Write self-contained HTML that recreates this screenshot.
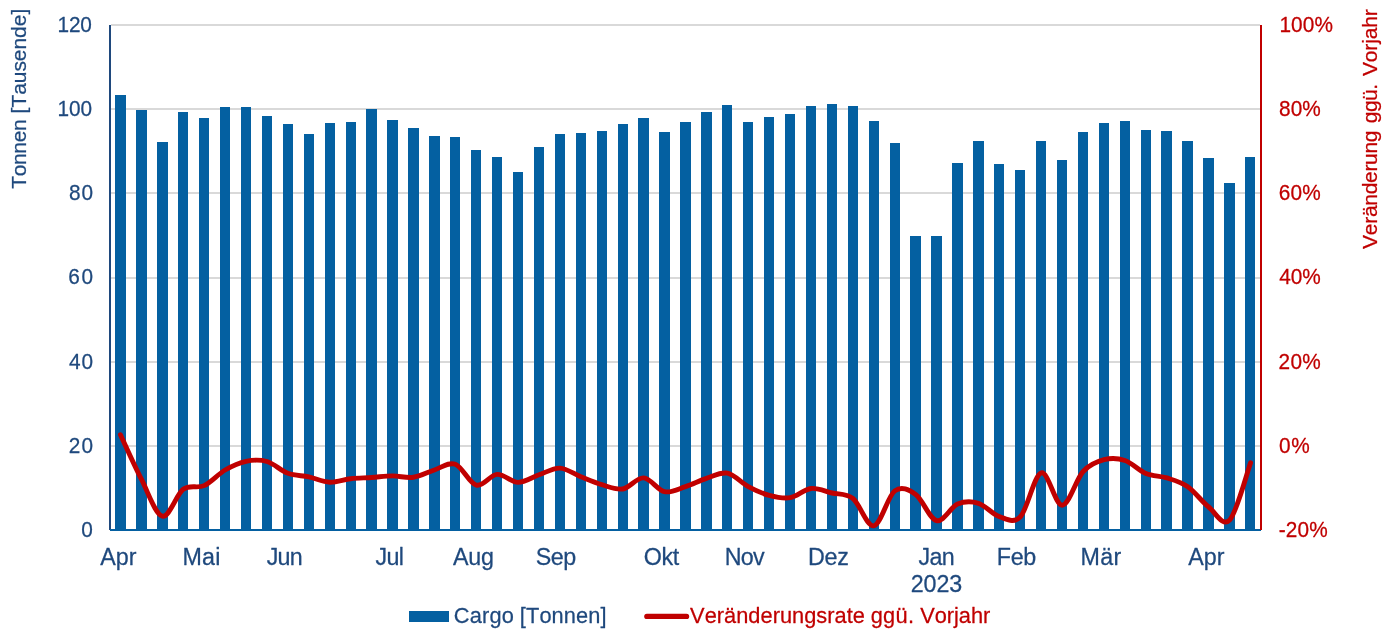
<!DOCTYPE html>
<html lang="de"><head><meta charset="utf-8"><title>Cargo [Tonnen] – Veränderungsrate ggü. Vorjahr</title>
<style>html,body{margin:0;padding:0;background:#fff}body{width:1389px;height:634px;overflow:hidden}svg{display:block}svg{font-family:"Liberation Sans",sans-serif;font-size:21.33px;font-kerning:none}.n{fill:#1f497d;stroke:#1f497d}.r{fill:#c00000;stroke:#c00000}text{stroke-width:0.25px;stroke-linejoin:round}</style></head><body>
<svg width="1389" height="634" viewBox="0 0 1389 634">
<rect width="1389" height="634" fill="#fff"/>
<g fill="#d9d9d9" shape-rendering="crispEdges">
<rect x="111" y="24" width="1149" height="2"/>
<rect x="111" y="108" width="1149" height="2"/>
<rect x="111" y="192" width="1149" height="2"/>
<rect x="111" y="277" width="1149" height="2"/>
<rect x="111" y="361" width="1149" height="2"/>
<rect x="111" y="445" width="1149" height="2"/>
</g>
<g fill="#0460a1" shape-rendering="crispEdges">
<rect x="115" y="95" width="11" height="435"/>
<rect x="136" y="110" width="11" height="420"/>
<rect x="157" y="142" width="11" height="388"/>
<rect x="178" y="112" width="10" height="418"/>
<rect x="199" y="118" width="10" height="412"/>
<rect x="220" y="107" width="10" height="423"/>
<rect x="241" y="107" width="10" height="423"/>
<rect x="262" y="116" width="10" height="414"/>
<rect x="283" y="124" width="10" height="406"/>
<rect x="304" y="134" width="10" height="396"/>
<rect x="325" y="123" width="10" height="407"/>
<rect x="346" y="122" width="10" height="408"/>
<rect x="366" y="109" width="11" height="421"/>
<rect x="387" y="120" width="11" height="410"/>
<rect x="408" y="128" width="11" height="402"/>
<rect x="429" y="136" width="11" height="394"/>
<rect x="450" y="137" width="10" height="393"/>
<rect x="471" y="150" width="10" height="380"/>
<rect x="492" y="157" width="10" height="373"/>
<rect x="513" y="172" width="10" height="358"/>
<rect x="534" y="147" width="10" height="383"/>
<rect x="555" y="134" width="10" height="396"/>
<rect x="576" y="133" width="10" height="397"/>
<rect x="597" y="131" width="10" height="399"/>
<rect x="618" y="124" width="10" height="406"/>
<rect x="638" y="118" width="11" height="412"/>
<rect x="659" y="132" width="11" height="398"/>
<rect x="680" y="122" width="11" height="408"/>
<rect x="701" y="112" width="11" height="418"/>
<rect x="722" y="105" width="10" height="425"/>
<rect x="743" y="122" width="10" height="408"/>
<rect x="764" y="117" width="10" height="413"/>
<rect x="785" y="114" width="10" height="416"/>
<rect x="806" y="106" width="10" height="424"/>
<rect x="827" y="104" width="10" height="426"/>
<rect x="848" y="106" width="10" height="424"/>
<rect x="869" y="121" width="10" height="409"/>
<rect x="890" y="143" width="10" height="387"/>
<rect x="910" y="236" width="11" height="294"/>
<rect x="931" y="236" width="11" height="294"/>
<rect x="952" y="163" width="11" height="367"/>
<rect x="973" y="141" width="11" height="389"/>
<rect x="994" y="164" width="10" height="366"/>
<rect x="1015" y="170" width="10" height="360"/>
<rect x="1036" y="141" width="10" height="389"/>
<rect x="1057" y="160" width="10" height="370"/>
<rect x="1078" y="132" width="10" height="398"/>
<rect x="1099" y="123" width="10" height="407"/>
<rect x="1120" y="121" width="10" height="409"/>
<rect x="1141" y="130" width="10" height="400"/>
<rect x="1161" y="131" width="11" height="399"/>
<rect x="1182" y="141" width="11" height="389"/>
<rect x="1203" y="158" width="11" height="372"/>
<rect x="1224" y="183" width="11" height="347"/>
<rect x="1245" y="157" width="10" height="373"/>
</g>
<g shape-rendering="crispEdges">
<rect x="109" y="25" width="2" height="505" fill="#1f497d"/>
<rect x="110" y="529" width="1151" height="2" fill="#0460a1"/>
<rect x="1260" y="25" width="2" height="505" fill="#c00000"/>
</g>
<path d="M120.46 434.70C123.95 442.12 134.42 465.62 141.39 479.20C148.37 492.78 155.34 514.52 162.32 516.20C169.29 517.88 176.27 494.40 183.25 489.30C190.22 484.20 197.20 488.82 204.17 485.60C211.15 482.38 218.12 474.05 225.10 470.00C232.08 465.95 239.05 462.72 246.03 461.30C253.00 459.88 259.98 459.50 266.95 461.50C273.93 463.50 280.91 470.73 287.88 473.30C294.86 475.87 301.83 475.42 308.81 476.90C315.78 478.38 322.76 481.90 329.74 482.20C336.71 482.50 343.69 479.48 350.66 478.70C357.64 477.92 364.62 477.97 371.59 477.50C378.57 477.03 385.54 475.93 392.52 475.90C399.49 475.87 406.47 478.28 413.45 477.30C420.42 476.32 427.40 472.18 434.37 470.00C441.35 467.82 448.32 461.68 455.30 464.20C462.28 466.72 469.25 483.40 476.23 485.10C483.20 486.80 490.18 474.85 497.15 474.40C504.13 473.95 511.11 482.33 518.08 482.40C525.06 482.47 532.03 477.18 539.01 474.80C545.98 472.42 552.96 467.77 559.94 468.10C566.91 468.43 573.89 474.03 580.86 476.80C587.84 479.57 594.82 482.67 601.79 484.70C608.77 486.73 615.74 490.13 622.72 489.00C629.69 487.87 636.67 477.45 643.65 477.90C650.62 478.35 657.60 490.25 664.57 491.70C671.55 493.15 678.52 488.82 685.50 486.60C692.48 484.38 699.45 480.63 706.43 478.40C713.40 476.17 720.38 471.83 727.35 473.20C734.33 474.57 741.31 482.90 748.28 486.60C755.26 490.30 762.23 493.55 769.21 495.40C776.18 497.25 783.16 498.85 790.14 497.70C797.11 496.55 804.09 489.28 811.06 488.50C818.04 487.72 825.02 491.33 831.99 493.00C838.97 494.67 845.94 493.03 852.92 498.50C859.89 503.97 866.87 527.07 873.85 525.80C880.82 524.53 887.80 496.10 894.77 490.90C901.75 485.70 908.72 489.63 915.70 494.60C922.68 499.57 929.65 519.12 936.63 520.70C943.60 522.28 950.58 507.00 957.55 504.10C964.53 501.20 971.51 501.22 978.48 503.30C985.46 505.38 992.43 514.35 999.41 516.60C1006.38 518.85 1013.36 524.08 1020.34 516.80C1027.31 509.52 1034.29 474.83 1041.26 472.90C1048.24 470.97 1055.22 505.43 1062.19 505.20C1069.17 504.97 1076.14 479.08 1083.12 471.50C1090.09 463.92 1097.07 461.53 1104.05 459.70C1111.02 457.87 1118.00 458.20 1124.97 460.50C1131.95 462.80 1138.92 470.60 1145.90 473.50C1152.88 476.40 1159.85 475.70 1166.83 477.90C1173.80 480.10 1180.78 481.85 1187.75 486.70C1194.73 491.55 1201.71 501.43 1208.68 507.00C1215.66 512.57 1222.63 527.45 1229.61 520.10C1236.58 512.75 1247.05 472.43 1250.54 462.90" fill="none" stroke="#c00000" stroke-width="4.9" stroke-linecap="round" stroke-linejoin="round"/>
<text class="n" transform="translate(57.42 31.90) scale(1 1.04)" style="font-size:20.8px;letter-spacing:-0.104px">120</text>
<text class="n" transform="translate(57.42 116.00) scale(1 1.04)" style="font-size:20.8px;letter-spacing:-0.004px">100</text>
<text class="n" transform="translate(68.90 200.00) scale(1 1.04)" style="font-size:20.8px;letter-spacing:1.08px">80</text>
<text class="n" transform="translate(68.34 284.00) scale(1 1.04)" style="font-size:20.8px;letter-spacing:1.633px">60</text>
<text class="n" transform="translate(68.92 368.80) scale(1 1.04)" style="font-size:20.8px;letter-spacing:1.054px">40</text>
<text class="n" transform="translate(68.65 452.80) scale(1 1.04)" style="font-size:20.8px;letter-spacing:1.323px">20</text>
<text class="n" transform="translate(81.19 536.80) scale(1 1.04)" style="font-size:20.8px">0</text>
<text class="r" transform="translate(1279.42 31.90) scale(1 1.04)" style="font-size:20.8px;letter-spacing:0.109px">100%</text>
<text class="r" transform="translate(1279.00 116.00) scale(1 1.04)" style="font-size:20.8px;letter-spacing:0.107px">80%</text>
<text class="r" transform="translate(1278.74 200.00) scale(1 1.04)" style="font-size:20.8px;letter-spacing:0.234px">60%</text>
<text class="r" transform="translate(1279.22 284.00) scale(1 1.04)" style="font-size:20.8px;letter-spacing:-0.006px">40%</text>
<text class="r" transform="translate(1278.55 368.80) scale(1 1.04)" style="font-size:20.8px;letter-spacing:0.329px">20%</text>
<text class="r" transform="translate(1279.09 452.80) scale(1 1.04)" style="font-size:20.8px;letter-spacing:0.591px">0%</text>
<text class="r" transform="translate(1278.68 536.80) scale(1 1.04)" style="font-size:20.8px;letter-spacing:0.136px">-20%</text>
<text class="n" transform="translate(100.20 564.70) scale(1 1.025)" style="font-size:23.3px;letter-spacing:0.062px">Apr</text>
<text class="n" transform="translate(182.39 564.70) scale(1 1.025)" style="font-size:23.3px;letter-spacing:0.294px">Mai</text>
<text class="n" transform="translate(266.64 564.70) scale(1 1.025)" style="font-size:23.3px;letter-spacing:-0.72px">Jun</text>
<text class="n" transform="translate(375.44 564.70) scale(1 1.025)" style="font-size:23.3px;letter-spacing:-0.581px">Jul</text>
<text class="n" transform="translate(453.12 564.70) scale(1 1.025)" style="font-size:23.3px;letter-spacing:-0.34px">Aug</text>
<text class="n" transform="translate(535.81 564.70) scale(1 1.025)" style="font-size:23.3px;letter-spacing:-0.496px">Sep</text>
<text class="n" transform="translate(643.70 564.70) scale(1 1.025)" style="font-size:23.3px;letter-spacing:-0.336px">Okt</text>
<text class="n" transform="translate(724.74 564.70) scale(1 1.025)" style="font-size:23.3px;letter-spacing:-0.697px">Nov</text>
<text class="n" transform="translate(807.99 564.70) scale(1 1.025)" style="font-size:23.3px;letter-spacing:-0.282px">Dez</text>
<text class="n" transform="translate(918.54 564.70) scale(1 1.025)" style="font-size:23.3px;letter-spacing:-0.695px">Jan</text>
<text class="n" transform="translate(996.79 564.70) scale(1 1.025)" style="font-size:23.3px;letter-spacing:-0.35px">Feb</text>
<text class="n" transform="translate(1080.49 564.70) scale(1 1.025)" style="font-size:23.3px;letter-spacing:0.386px">Mär</text>
<text class="n" transform="translate(1188.25 564.70) scale(1 1.025)" style="font-size:23.3px;letter-spacing:0.037px">Apr</text>
<text class="n" transform="translate(910.63 592.00) scale(1 1.04)" style="font-size:23.3px;letter-spacing:-0.046px">2023</text>
<text class="n" transform="translate(26.00 188.77) rotate(-90) scale(1 1.005)" style="font-size:21px;letter-spacing:-0.358px">Tonnen</text>
<text class="n" transform="translate(26.00 113.40) rotate(-90) scale(1 1.005)" style="font-size:21px;letter-spacing:-0.048px">[Tausende]</text>
<text class="r" transform="translate(1377.40 248.89) rotate(-90) scale(1 1.005)" style="font-size:21px;letter-spacing:-0.298px">Veränderung</text>
<text class="r" transform="translate(1377.40 123.28) rotate(-90) scale(1 1.005)" style="font-size:21px;letter-spacing:-0.491px">ggü.</text>
<text class="r" transform="translate(1377.40 75.99) rotate(-90) scale(1 1.005)" style="font-size:21px;letter-spacing:-0.159px">Vorjahr</text>
<rect x="409" y="611" width="40" height="11" fill="#0460a1" shape-rendering="crispEdges"/>
<text class="n" transform="translate(453.84 622.70) scale(1 1.005)" style="font-size:21.8px;letter-spacing:0.199px">Cargo</text>
<text class="n" transform="translate(519.85 622.70) scale(1 1.005)" style="font-size:21.8px;letter-spacing:0.094px">[Tonnen]</text>
<path d="M646.9 616.4H686.5" fill="none" stroke="#c00000" stroke-width="5.4" stroke-linecap="round"/>
<text class="r" transform="translate(690.10 622.70) scale(1 1.005)" style="font-size:21.8px;letter-spacing:0.023px">Veränderungsrate</text>
<text class="r" transform="translate(870.68 622.70) scale(1 1.005)" style="font-size:21.8px;letter-spacing:0.292px">ggü.</text>
<text class="r" transform="translate(920.15 622.70) scale(1 1.005)" style="font-size:21.8px;letter-spacing:-0.011px">Vorjahr</text>
</svg></body></html>
